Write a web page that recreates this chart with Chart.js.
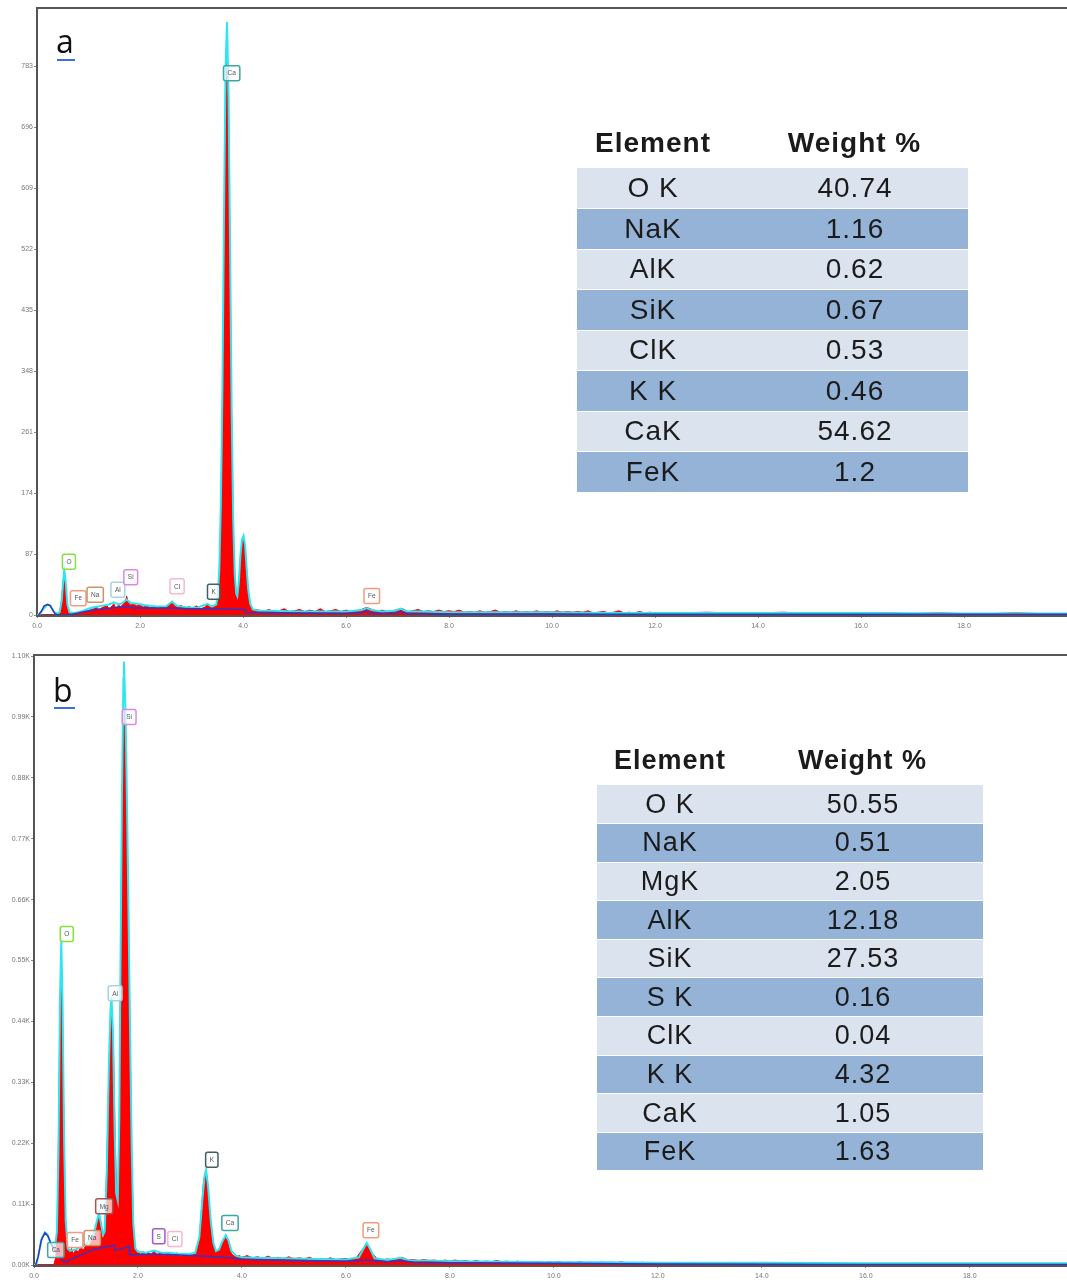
<!DOCTYPE html>
<html>
<head>
<meta charset="utf-8">
<script src="https://cdn.jsdelivr.net/npm/chart.js@4.4.1/dist/chart.umd.min.js"></script>
<style>
  body { margin:0; background:#fff; width:1067px; height:1282px; position:relative; overflow:hidden;
         font-family:"Liberation Sans", Arial, sans-serif; }
  canvas { position:absolute; left:0; }
  #specA { top:0; }
  #specB { top:640px; }
  .tag { position:absolute; font-family:"Open Sans", sans-serif; font-size:32px; line-height:32px; color:#111; }
  .uline { position:absolute; height:2px; background:#3d6fd9; }
  table.wt { position:absolute; border-collapse:collapse; table-layout:fixed; color:#1b1b1b; letter-spacing:1px; }
  table.wt th { font-weight:bold; text-align:center; background:transparent; }
  table.wt td { text-align:center; padding:0; border-bottom:1px solid #fff; }
  table.wt tr.light td { background:#dbe3ef; }
  table.wt tr.dark td { background:#95b3d7; }
</style>
</head>
<body>
<canvas id="specA" width="1067" height="640"></canvas>
<canvas id="specB" width="1067" height="642"></canvas>

<div class="tag" style="left:56px; top:25px;">a</div>
<div class="uline" style="left:57px; top:59px; width:18px;"></div>
<div class="tag" style="left:53px; top:674px;">b</div>
<div class="uline" style="left:54px; top:707px; width:21px;"></div>

<table class="wt" id="tabA"></table>
<table class="wt" id="tabB"></table>

<script>
// ── Tableaux de composition ─────────────────────────────────────────────────
const elementsA = ['O K', 'NaK', 'AlK', 'SiK', 'ClK', 'K K', 'CaK', 'FeK'];
const weightsA  = ['40.74', '1.16', '0.62', '0.67', '0.53', '0.46', '54.62', '1.2'];
const elementsB = ['O K', 'NaK', 'MgK', 'AlK', 'SiK', 'S K', 'ClK', 'K K', 'CaK', 'FeK'];
const weightsB  = ['50.55', '0.51', '2.05', '12.18', '27.53', '0.16', '0.04', '4.32', '1.05', '1.63'];

// ── Axes ────────────────────────────────────────────────────────────────────
const xTicks      = [0, 2, 4, 6, 8, 10, 12, 14, 16, 18];
const xTickLabels = ['0.0', '2.0', '4.0', '6.0', '8.0', '10.0', '12.0', '14.0', '16.0', '18.0'];
const yTicksA     = [0, 87, 174, 261, 348, 435, 522, 609, 696, 783];
const yLabelsA    = ['0', '87', '174', '261', '348', '435', '522', '609', '696', '783'];
const yTicksB     = [0, 110, 220, 330, 440, 550, 660, 770, 880, 990, 1100];
const yLabelsB    = ['0.00K', '0.11K', '0.22K', '0.33K', '0.44K', '0.55K', '0.66K', '0.77K', '0.88K', '0.99K', '1.10K'];

// ── Spectre a : [énergie keV, coups] ─────────────────────────────────────────
const specA = [
  [0,0],[0.38,0],[0.44,3],[0.47,18],[0.50,42],[0.52,56],[0.54,50],[0.56,30],[0.59,10],[0.63,2],[0.70,1],
  [0.80,2],[0.90,4],[1.00,6],[1.10,9],[1.15,12],[1.20,8],[1.28,11],[1.35,14],[1.40,9],[1.46,13],[1.49,16],
  [1.53,10],[1.58,14],[1.63,12],[1.68,16],[1.72,20],[1.74,27],[1.77,18],[1.82,14],[1.88,17],[1.93,13],
  [2.00,15],[2.06,11],[2.12,14],[2.20,10],[2.27,13],[2.35,9],[2.42,12],[2.50,10],[2.56,14],[2.60,18],
  [2.63,20],[2.67,13],[2.73,11],[2.80,14],[2.87,9],[2.95,12],[3.02,10],[3.10,13],[3.18,9],[3.25,11],
  [3.31,15],[3.36,11],[3.42,13],[3.48,14],[3.51,25],[3.54,60],[3.57,150],[3.60,300],[3.63,520],[3.66,720],
  [3.69,790],[3.72,700],[3.75,500],[3.78,280],[3.81,130],[3.84,55],[3.87,28],[3.89,24],[3.92,45],[3.95,80],
  [3.98,104],[4.01,108],[4.04,95],[4.07,65],[4.10,35],[4.14,15],[4.19,8],
  [4.3,7],[4.4,5],[4.5,8],[4.6,5],[4.7,6],[4.8,9],[4.9,5],[5.0,6],[5.1,8],[5.2,5],[5.3,7],[5.4,5],[5.5,9],
  [5.6,5],[5.7,6],[5.8,8],[5.9,5],[6.0,7],[6.1,5],[6.2,6],[6.3,8],[6.4,11],[6.5,8],[6.6,5],[6.7,7],[6.8,5],
  [6.9,6],[7.0,8],[7.1,9],[7.2,5],[7.3,6],[7.4,8],[7.5,5],[7.6,6],[7.7,5],[7.8,7],[7.9,5],[8.0,6],[8.1,5],
  [8.2,7],[8.3,4],[8.4,5],[8.5,4],[8.6,6],[8.7,4],[8.8,5],[8.9,7],[9.0,4],[9.1,5],[9.2,4],[9.3,6],[9.4,4],
  [9.5,5],[9.6,4],[9.7,6],[9.8,4],[9.9,5],[10.0,4],[10.1,6],[10.2,4],[10.3,5],[10.4,4],[10.5,5],[10.6,4],
  [10.7,6],[10.8,3],[10.9,4],[11.0,5],[11.1,3],[11.2,4],[11.3,6],[11.4,3],[11.5,4],[11.6,3],[11.7,5],
  [11.8,3],[11.9,4],[12.0,3],
  [12.5,3],[13.0,4],[13.5,3],[14.0,3],[14.5,4],[15.0,2],[15.5,3],[16.0,2],[16.5,3],[17.0,2],[17.5,3],
  [18.0,2],[18.5,2],[19.0,3],[19.5,2],[20.0,2]
];
// enveloppe cyan (ajustement)
const fitA = [
  [0,0],[0.05,1],[0.12,8],[0.20,15],[0.26,13],[0.32,5],[0.38,2],[0.44,4],[0.48,20],[0.51,50],[0.53,64],
  [0.56,45],[0.59,15],[0.63,4],[0.70,3],[0.80,4],[0.90,6],[1.00,9],[1.10,11],[1.25,13],[1.40,15],[1.49,18],
  [1.58,15],[1.66,17],[1.74,22],[1.82,17],[1.95,16],[2.10,14],[2.30,12],[2.50,12],[2.62,19],[2.72,13],
  [2.90,11],[3.10,10],[3.31,16],[3.40,12],[3.48,15],[3.51,28],[3.54,65],[3.57,160],[3.60,320],[3.63,560],
  [3.66,780],[3.69,846],[3.72,740],[3.75,520],[3.78,290],[3.81,135],[3.84,58],[3.87,30],[3.89,27],[3.92,48],
  [3.95,85],[3.98,108],[4.01,113],[4.04,100],[4.07,68],[4.10,37],[4.14,16],[4.19,8],[4.30,6],[4.60,6],
  [5.00,5],[5.50,5],[6.00,5],[6.30,7],[6.40,10],[6.50,7],[6.70,5],[6.95,6],[7.06,9],[7.18,5],[7.50,5],
  [8.00,4],[9.00,4],[10.0,4],[11.0,3],[12.0,3],[14.0,3],[16.0,3],[18.0,2],[20.0,2]
];
// fond continu (bleu)
const bkgA = [
  [0.03,0],[0.08,5],[0.14,13],[0.20,15],[0.25,14],[0.30,8],[0.35,2],[0.40,0],[0.60,0],[0.80,3],[1.00,6],
  [1.30,9],[1.60,11],[1.84,12],[1.85,10],[2.50,10],[3.00,9],[3.60,9],[4.04,8],[4.05,4],[5.00,3],[6.00,2],
  [6.30,3],[6.40,6],[6.50,2],[6.95,2],[7.06,5],[7.18,2],[8.0,1],[10,1],[14,1],[20,1]
];

// ── Spectre b ───────────────────────────────────────────────────────────────
const specB = [
  [0,0],[0.38,0],[0.42,15],[0.45,80],[0.48,300],[0.50,480],[0.525,560],[0.55,440],[0.58,200],[0.61,70],
  [0.65,28],[0.68,22],[0.72,30],[0.76,20],[0.80,28],[0.85,24],[0.90,32],[0.95,27],[1.00,36],[1.05,33],
  [1.10,42],[1.15,50],[1.19,65],[1.22,82],[1.25,88],[1.28,70],[1.31,52],[1.34,48],[1.37,80],[1.40,180],
  [1.44,350],[1.47,440],[1.50,460],[1.53,380],[1.56,230],[1.59,125],[1.62,120],[1.64,250],[1.66,480],
  [1.69,800],[1.72,980],[1.74,1000],[1.76,950],[1.79,800],[1.82,600],[1.85,400],[1.88,200],[1.91,70],
  [1.95,28],[2.00,26],
  [2.05,19],[2.10,24],[2.15,18],[2.20,22],[2.25,19],[2.31,25],[2.37,18],[2.43,22],[2.50,17],[2.56,21],
  [2.62,20],[2.68,17],[2.75,22],[2.82,16],[2.90,20],[2.97,17],[3.05,21],[3.12,20],[3.18,45],[3.22,100],
  [3.26,150],[3.30,168],[3.33,160],[3.37,110],[3.41,60],[3.45,38],[3.50,24],[3.54,26],[3.59,35],[3.64,46],
  [3.68,50],[3.72,44],[3.77,26],[3.82,18],[3.88,15],[3.95,17],
  [4.0,14],[4.1,17],[4.2,13],[4.3,15],[4.4,12],[4.5,16],[4.6,12],[4.7,14],[4.8,11],[4.9,15],[5.0,11],
  [5.1,13],[5.2,11],[5.3,14],[5.4,10],[5.5,12],[5.6,10],[5.7,13],[5.8,10],[5.9,11],[6.0,12],[6.1,10],
  [6.2,13],[6.3,26],[6.4,38],[6.5,22],[6.6,11],[6.7,9],[6.8,11],[6.9,9],[7.0,12],[7.1,13],[7.2,9],[7.3,10],
  [7.4,8],[7.5,10],[7.6,8],[7.7,9],[7.8,7],[7.9,9],[8.0,7],[8.1,9],[8.2,7],[8.3,8],[8.4,6],[8.5,8],[8.6,6],
  [8.7,7],[8.8,6],[8.9,8],[9.0,6],[9.1,7],[9.2,5],[9.3,7],[9.4,5],[9.5,6],[9.6,5],[9.7,6],[9.8,4],[9.9,6],
  [10.0,5],[10.1,6],[10.2,4],[10.3,5],[10.4,4],[10.5,6],[10.6,4],[10.7,5],[10.8,4],[10.9,5],[11.0,3],
  [11.1,5],[11.2,4],[11.3,6],[11.4,3],[11.5,4],[11.6,3],[11.7,5],[11.8,3],[11.9,4],[12.0,3],
  [12.5,3],[13.0,3],[13.5,4],[14.0,2],[14.5,3],[15.0,2],[15.5,3],[16.0,2],[16.5,2],[17.0,3],[17.5,2],
  [18.0,2],[18.5,2],[19.0,2],[19.5,2],[19.9,2]
];
const fitB = [
  [0,0],[0.05,2],[0.10,25],[0.15,48],[0.21,59],[0.26,55],[0.31,42],[0.36,32],[0.40,30],[0.44,60],[0.47,200],
  [0.50,480],[0.525,587],[0.55,470],[0.58,220],[0.61,80],[0.65,30],[0.70,26],[0.80,28],[0.90,32],[1.00,38],
  [1.08,45],[1.15,55],[1.21,80],[1.25,94],[1.29,75],[1.33,55],[1.36,60],[1.40,170],[1.44,360],[1.47,460],
  [1.49,484],[1.52,420],[1.55,250],[1.58,130],[1.61,117],[1.64,260],[1.66,500],[1.69,840],[1.72,1060],
  [1.73,1090],[1.76,1000],[1.79,830],[1.82,620],[1.85,410],[1.88,210],[1.91,75],[1.95,30],[2.00,24],
  [2.15,22],[2.31,26],[2.45,22],[2.62,22],
  [2.80,20],[3.00,20],[3.10,22],[3.18,50],[3.24,120],[3.28,160],[3.31,172],[3.35,140],[3.40,80],[3.45,40],
  [3.50,25],[3.56,28],[3.62,42],[3.69,54],[3.74,45],[3.80,25],[3.90,16],[4.00,14],[4.30,13],[4.80,12],
  [5.50,11],[6.00,10],[6.25,14],[6.33,28],[6.40,40],[6.47,28],[6.55,12],[6.80,9],[7.06,13],[7.20,8],
  [7.60,8],[8.00,7],[9.00,6],[10.0,5],[11.0,5],[12.0,4],[14.0,4],[16.0,3],[18.0,3],[19.9,3]
];
const bkgB = [
  [0.03,0],[0.08,15],[0.14,45],[0.21,58],[0.27,52],[0.33,38],[0.40,26],[0.48,18],[0.55,8],[0.60,5],
  [0.75,12],[0.95,20],[1.15,28],[1.35,32],[1.55,35],[1.56,26],[1.70,30],[1.83,33],[1.84,18],[2.30,20],
  [2.80,18],[3.30,16],[3.80,13],[4.00,10],[5.00,8],[6.00,7],[6.40,9],[6.80,6],[7.06,8],[7.30,5],[8.0,4],
  [10,3],[12,2],[16,1],[19.9,1]
];

// ── Étiquettes de pics ──────────────────────────────────────────────────────
const tagNamesA  = ['O', 'Fe', 'Na', 'Al', 'Si', 'Cl', 'K', 'Ca', 'Fe'];
const tagEnergyA = [0.62, 0.80, 1.13, 1.57, 1.82, 2.72, 3.43, 3.78, 6.50];
const tagCountA  = [76, 24, 29, 36, 54, 41, 33, 773, 27];
const tagNamesB  = ['Ca', 'O', 'Fe', 'Na', 'Mg', 'Al', 'Si', 'S', 'Cl', 'K', 'Ca', 'Fe'];
const tagEnergyB = [0.42, 0.63, 0.79, 1.12, 1.35, 1.56, 1.83, 2.40, 2.71, 3.42, 3.77, 6.48];
const tagCountB  = [27, 598, 45, 49, 106, 491, 990, 52, 47, 190, 76, 63];

const tagColor = {
  O: '#86e03c', Fe: '#f39b80', Na: '#c8946a', Al: '#a6d3e6', Si: '#de86e6', Cl: '#f6b9c9',
  K: '#41605f', Ca: '#3aa6a6', Mg: '#a65353', S: '#a458c9'
};

// ── Tableaux HTML ───────────────────────────────────────────────────────────
function buildTable(id, els, wts, o) {
  const t = document.getElementById(id);
  t.style.left = o.left + 'px';
  t.style.top = o.top + 'px';
  t.style.width = (o.w1 + o.w2) + 'px';
  t.style.fontSize = o.font + 'px';
  let html = `<colgroup><col style="width:${o.w1}px"><col style="width:${o.w2}px"></colgroup>`;
  html += `<tr style="height:${o.head}px"><th>Element</th><th style="padding-left:${o.shift}px">Weight %</th></tr>`;
  els.forEach((e, i) => {
    html += `<tr class="${i % 2 ? 'dark' : 'light'}" style="height:${o.row}px"><td>${e}</td>` +
            `<td style="padding-left:${o.shift}px">${wts[i]}</td></tr>`;
  });
  t.innerHTML = html;
}
buildTable('tabA', elementsA, weightsA, { left: 577, top: 118, w1: 152, w2: 239, head: 50, row: 40.5, font: 28, shift: 13 });
buildTable('tabB', elementsB, weightsB, { left: 597, top: 735, w1: 146, w2: 240, head: 50, row: 38.6, font: 27, shift: 0 });

// ── Plugins ─────────────────────────────────────────────────────────────────
const peakTags = {
  id: 'peakTags',
  afterDatasetsDraw(chart, args, o) {
    const { ctx, scales: { x, y } } = chart;
    ctx.save();
    ctx.font = '6.5px "Liberation Sans", Arial, sans-serif';
    ctx.textAlign = 'center';
    ctx.textBaseline = 'middle';
    o.names.forEach((n, i) => {
      const px = x.getPixelForValue(o.energies[i]);
      const py = y.getPixelForValue(o.counts[i]);
      const w = ctx.measureText(n).width + 8, h = 15;
      ctx.beginPath();
      ctx.roundRect(px - w / 2, py - h / 2, w, h, 2);
      ctx.fillStyle = 'rgba(255,255,255,0.7)';
      ctx.fill();
      ctx.lineWidth = 1.5;
      ctx.strokeStyle = tagColor[n];
      ctx.stroke();
      ctx.fillStyle = '#555';
      ctx.fillText(n, px, py + 0.5);
    });
    ctx.restore();
  }
};

// ligne du cadre en haut
const frameTop = {
  id: 'frameTop',
  afterDraw(chart) {
    const { ctx, chartArea: a } = chart;
    ctx.save();
    ctx.strokeStyle = '#555';
    ctx.lineWidth = 2;
    ctx.beginPath();
    ctx.moveTo(a.left, a.top);
    ctx.lineTo(a.right, a.top);
    ctx.stroke();
    ctx.restore();
  }
};

const pts = (arr) => arr.map((p) => ({ x: p[0], y: p[1] }));
const tickFont = { size: 7, family: '"Liberation Sans", Arial, sans-serif' };

function spectrumChart(id, o) {
  return new Chart(document.getElementById(id), {
    type: 'line',
    data: {
      datasets: [
        // 0 : fond continu — dessiné en dernier (au-dessus)
        { label: 'background', data: pts(o.bkg), borderColor: '#3434c8', borderWidth: 1.5, pointRadius: 0, fill: false },
        // 1 : enveloppe cyan
        { label: 'fit', data: pts(o.fit), borderColor: '#2ee6f0', borderWidth: 2, pointRadius: 0, fill: false },
        // 2 : spectre rouge rempli
        { label: 'counts', data: pts(o.spec), borderColor: '#ff0000', backgroundColor: '#ff0000',
          borderWidth: 1, pointRadius: 0, fill: 'origin' },
      ],
    },
    options: {
      responsive: false,
      animation: false,
      events: [],
      parsing: false,
      layout: { padding: { top: o.padTop, right: 0, left: 0, bottom: 0 } },
      plugins: {
        legend: { display: false },
        tooltip: { enabled: false },
        peakTags: { names: o.tagNames, energies: o.tagEnergy, counts: o.tagCount },
      },
      scales: {
        x: {
          type: 'linear',
          min: 0,
          max: o.xMax,
          afterBuildTicks: (s) => { s.ticks = xTicks.map((v) => ({ value: v })); },
          afterFit: (s) => { s.height = o.xHeight; },
          ticks: { callback: (v, i) => xTickLabels[i], font: tickFont, color: '#777', padding: o.xPad, maxRotation: 0, autoSkip: false },
          grid: { drawOnChartArea: false, tickLength: 3, color: '#888' },
          border: { color: '#555', width: 3 },
        },
        y: {
          min: 0,
          max: o.yMax,
          afterBuildTicks: (s) => { s.ticks = o.yTicks.map((v) => ({ value: v })); },
          afterFit: (s) => { s.width = o.yWidth; },
          ticks: { callback: (v, i) => o.yLabels[i], font: tickFont, color: '#777', padding: 1, autoSkip: false },
          grid: { drawOnChartArea: false, tickLength: 3, color: '#888' },
          border: { color: '#555', width: 2 },
        },
      },
    },
    plugins: [peakTags, frameTop],
  });
}

spectrumChart('specA', {
  spec: specA, fit: fitA, bkg: bkgA,
  tagNames: tagNamesA, tagEnergy: tagEnergyA, tagCount: tagCountA,
  yTicks: yTicksA, yLabels: yLabelsA,
  xMax: 20, yMax: 866, padTop: 8, xHeight: 25, yWidth: 37, xPad: 4,
});
spectrumChart('specB', {
  spec: specB, fit: fitB, bkg: bkgB,
  tagNames: tagNamesB, tagEnergy: tagEnergyB, tagCount: tagCountB,
  yTicks: yTicksB, yLabels: yLabelsB,
  xMax: 19.87, yMax: 1102, padTop: 15, xHeight: 17, yWidth: 34, xPad: 4,
});
</script>
</body>
</html>
